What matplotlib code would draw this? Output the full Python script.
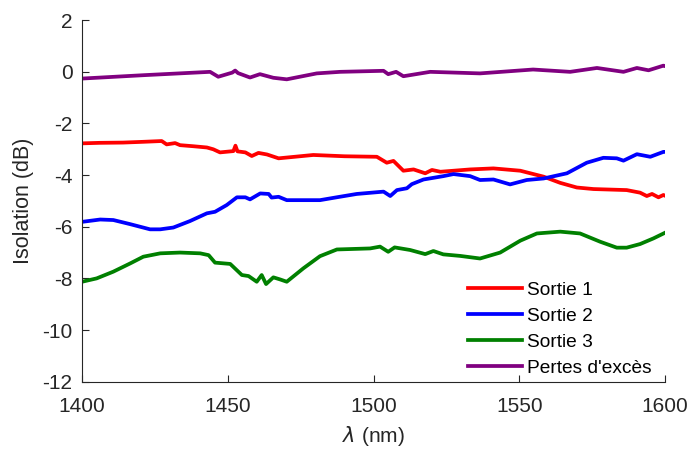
import numpy as np
import matplotlib.pyplot as plt

plt.rcParams['font.family'] = ['Liberation Sans', 'DejaVu Sans']
plt.rcParams['axes.unicode_minus'] = False

# Sortie 1 (rouge)
wl_s1 = [1400, 1406, 1414, 1421, 1427.3, 1429, 1431.9, 1433.6, 1438, 1442.8, 1445, 1447.3,
         1451.9, 1452.6, 1453.3, 1456, 1458.2, 1460.5, 1463.4, 1467.4, 1472, 1479.3, 1490,
         1501.1, 1504.5, 1506.8, 1510.2, 1513.7, 1517.7, 1520, 1522.9, 1529.7, 1533.1,
         1541.1, 1550.3, 1558.3, 1564, 1569.7, 1575.4, 1586.8, 1591.4, 1593.7, 1595.5,
         1597.7, 1599.4, 1600]
s1 = [-2.77, -2.75, -2.74, -2.71, -2.68, -2.81, -2.76, -2.84, -2.88, -2.93, -3.0, -3.12,
      -3.07, -2.86, -3.08, -3.12, -3.26, -3.14, -3.2, -3.35, -3.3, -3.22, -3.27,
      -3.29, -3.52, -3.45, -3.83, -3.78, -3.93, -3.8, -3.87, -3.81, -3.78,
      -3.74, -3.83, -4.06, -4.3, -4.48, -4.54, -4.58, -4.68, -4.81, -4.73,
      -4.86, -4.77, -4.8]

# Sortie 2 (bleu)
wl_s2 = [1400, 1406.2, 1410.7, 1416.5, 1419.9, 1423.3, 1426.8, 1431.3, 1437, 1442.8, 1445.6,
         1449.6, 1453.1, 1456, 1457.6, 1461.1, 1464, 1465, 1467.4, 1470.2, 1481.6, 1487.3,
         1494.2, 1503.4, 1505.7, 1508, 1511.4, 1513.1, 1517.1, 1523.9, 1527.4, 1533.1,
         1536.5, 1541.1, 1546.8, 1552.5, 1558.3, 1566.3, 1573.1, 1578.8, 1583.4, 1585.7,
         1590.3, 1594.9, 1599.4, 1600]
s2 = [-5.81, -5.72, -5.74, -5.9, -6.0, -6.1, -6.1, -6.03, -5.78, -5.48, -5.42,
      -5.16, -4.86, -4.86, -4.94, -4.71, -4.73, -4.87, -4.84, -4.97, -4.97, -4.86,
      -4.73, -4.64, -4.81, -4.58, -4.51, -4.35, -4.17, -4.04, -3.96, -4.04,
      -4.19, -4.17, -4.36, -4.19, -4.13, -3.93, -3.52, -3.33, -3.35, -3.44,
      -3.19, -3.29, -3.1, -3.1]

# Sortie 3 (vert)
wl_s3 = [1400, 1405, 1410.7, 1416.5, 1421, 1426.8, 1433.6, 1440.5, 1443.4, 1445.6, 1450.8,
         1454.8, 1457.1, 1459.9, 1461.6, 1463.1, 1465.6, 1467.9, 1470.2, 1475.9, 1481.6,
         1487.4, 1498.8, 1502.2, 1505, 1507.2, 1512.5, 1517.7, 1520.5, 1523.9, 1529.7,
         1536.5, 1543.4, 1550.3, 1556, 1564, 1570.8, 1577.7, 1583.4, 1586.8, 1591.4,
         1596, 1600]
s3 = [-8.13, -8.0, -7.74, -7.42, -7.16, -7.03, -7.0, -7.03, -7.1, -7.39, -7.44,
      -7.87, -7.91, -8.13, -7.87, -8.22, -7.96, -8.04, -8.13, -7.61, -7.14,
      -6.88, -6.84, -6.77, -6.97, -6.8, -6.9, -7.06, -6.94, -7.07, -7.13,
      -7.23, -7.0, -6.54, -6.26, -6.19, -6.26, -6.58, -6.81, -6.81, -6.67,
      -6.45, -6.23]

# Pertes d'excès (violet)
wl_p = [1400, 1421, 1443.9, 1446.7, 1451.5, 1452.5, 1453.5, 1457.6, 1461, 1465.6, 1470.2,
        1480.5, 1488.5, 1503.4, 1505, 1507.7, 1510.2, 1519.4, 1536.5, 1554.7, 1567.4,
        1576.6, 1585.7, 1590.3, 1594.3, 1599.4, 1600]
perte = [-0.26, -0.13, 0.0, -0.19, -0.03, 0.05, -0.05, -0.22, -0.09, -0.23, -0.29,
         -0.06, 0.0, 0.04, -0.09, 0.0, -0.17, 0.0, -0.06, 0.09, 0.0,
         0.15, 0.0, 0.15, 0.06, 0.24, 0.22]

fig = plt.figure(figsize=(6.9, 4.49), dpi=100)
ax = fig.add_axes([0.119, 0.150, 0.845, 0.805])

lw = 2.7
ax.plot(wl_s1, s1, color=(1, 0, 0), lw=lw, label='Sortie 1')
ax.plot(wl_s2, s2, color=(0, 0, 1), lw=lw, label='Sortie 2')
ax.plot(wl_s3, s3, color=(0, 0.5, 0), lw=lw, label='Sortie 3')
ax.plot(wl_p, perte, color=(0.5, 0, 0.5), lw=lw, label="Pertes d'excès")

ax.set_xlim(1400, 1600)
ax.set_ylim(-12, 2)
ax.set_xticks([1400, 1450, 1500, 1550, 1600])
ax.set_yticks(np.arange(-12, 3, 2))

gris = '#262626'
for s in ['top', 'right']:
    ax.spines[s].set_visible(False)
for s in ['left', 'bottom']:
    ax.spines[s].set_color(gris)
    ax.spines[s].set_linewidth(0.8)
ax.tick_params(direction='in', length=5, width=0.8, colors=gris, labelsize=15)
ax.tick_params(axis='x', pad=11)
ax.tick_params(axis='y', pad=7)

ax.set_xlabel(r'$\lambda$ (nm)', fontsize=15, color=gris, labelpad=6)
ax.set_ylabel('Isolation (dB)', fontsize=15.5, color=gris, labelpad=5.5)

leg = ax.legend(loc='lower right', frameon=False, fontsize=13.8, handlelength=2.8,
                handletextpad=0.3, labelspacing=0.45, borderaxespad=0.1,
                bbox_to_anchor=(0.994, -0.014))
for t in leg.get_texts():
    t.set_color('black')

plt.savefig('out.png', dpi=100)
